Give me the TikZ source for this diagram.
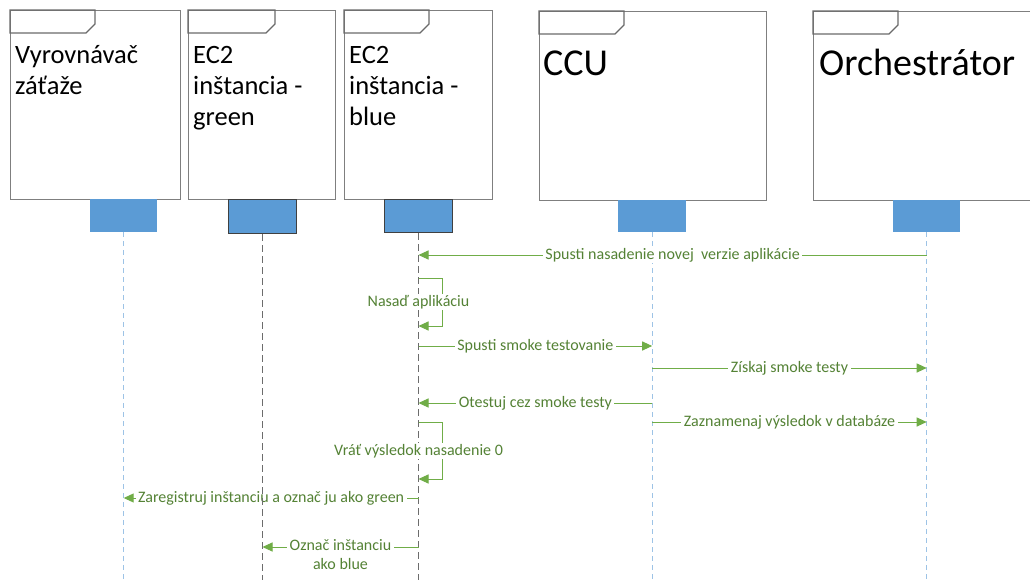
\documentclass[tikz,border=0pt]{standalone}
\usepackage{fontspec}
\setmainfont{Carlito}
\usetikzlibrary{arrows.meta,calc}

\definecolor{framegray}{HTML}{7F7F7F}
\definecolor{tabgray}{HTML}{6A6A6A}
\definecolor{actblue}{HTML}{5B9BD5}
\definecolor{lineblue}{HTML}{9DC3E6}
\definecolor{msggreen}{HTML}{70AD47}
\definecolor{msgtext}{HTML}{548235}
\definecolor{actedge}{HTML}{404040}

\tikzset{
  frame/.style={draw=framegray, line width=1pt, fill=white, anchor=north west, inner sep=0},
  tab/.style={draw=tabgray, line width=1.2pt, line join=miter},
  act/.style={fill=actblue, anchor=north west, inner sep=0, minimum width=67pt, minimum height=33pt},
  actdark/.style={act, draw=actedge, line width=1pt},
  lifelineblue/.style={draw=lineblue, line width=1pt, dash pattern=on 5pt off 4pt},
  lifelinegray/.style={draw=framegray!85!black, line width=1.5pt, dash pattern=on 7pt off 4pt},
  msg/.style={draw=msggreen, line width=1pt, -{Triangle[length=10pt,width=9pt]}},
  msglabel/.style={fill=white, text=msgtext, inner xsep=2.5pt, inner ysep=1pt,
    font=\fontsize{16}{19}\selectfont},
  title/.style={anchor=base west, inner sep=0, align=left, font=\fontsize{26.5}{31}\selectfont},
  bigtitle/.style={anchor=base west, inner sep=0, font=\fontsize{38}{46}\selectfont},
}

\begin{document}
\begin{tikzpicture}[x=1pt, y=-1pt]
  \clip (0,0) rectangle (1030,580);
  \fill[white] (0,0) rectangle (1030,580);

  % participant frames
  \node[frame, minimum width=170pt, minimum height=189pt] (f1) at (10,10) {};
  \node[frame, minimum width=147pt, minimum height=189pt] (f2) at (188,10) {};
  \node[frame, minimum width=148pt, minimum height=189pt] (f3) at (344,10) {};
  \node[frame, minimum width=227pt, minimum height=189pt] (f4) at (539,11) {};
  \node[frame, minimum width=240pt, minimum height=189pt] (f5) at (813,11) {};

  % name tabs in the upper left corners, drawn as closed outlines
  \foreach \f/\w in {f1/76, f2/78, f3/76, f4/76, f5/76} {
    \draw[tab] (\f.north west) -- ++(\w+9,0) -- ++(0,14) -- ++(-9,9)
      -- ++(-\w,0) -- cycle;
  }

  % participant names (anchored at the baseline of the last line)
  \node[title] (t1) at (15,95) {Vyrovnávač\\záťaže};
  \node[title] (t2) at (193,126) {EC2\\inštancia -\\green};
  \node[title] (t3) at (349,126) {EC2\\inštancia -\\blue};
  \node[bigtitle] (t4) at (543,76) {CCU};
  \node[bigtitle] (t5) at (819,76) {Orchestrátor};

  % lifeline heads
  \node[act] (a1) at (90,199) {};
  \node[actdark, minimum width=68pt, minimum height=34pt] (a2) at (228,199) {};
  \node[actdark, minimum width=68pt] (a3) at (384,199) {};
  \node[act, minimum width=68pt, minimum height=32pt] (a4) at (618,200) {};
  \node[act, minimum height=32pt] (a5) at (893,200) {};

  % message levels and the bottom edge
  \coordinate (bottom) at (0,580);
  \coordinate (y1) at (0,255);
  \coordinate (s1a) at (0,278);
  \coordinate (s1m) at (0,302);
  \coordinate (s1b) at (0,326);
  \coordinate (y3) at (0,346);
  \coordinate (y4) at (0,368);
  \coordinate (y5) at (0,403);
  \coordinate (y6) at (0,422);
  \coordinate (s2m) at (0,451);
  \coordinate (s2b) at (0,479);
  \coordinate (y8) at (0,498);
  \coordinate (y9) at (0,547);

  % lifelines
  \draw[lifelineblue] (a1.south) -- (a1.south |- bottom);
  \draw[lifelinegray] (a3.south) -- (a3.south |- bottom);
  \draw[lifelineblue] (a4.south) -- (a4.south |- bottom);
  \draw[lifelineblue] (a5.south) -- (a5.south |- bottom);

  % messages
  \draw[msg] (a5 |- y1) -- (a3 |- y1)
    node[msglabel, midway] (m1) {Spusti nasadenie novej\ \ verzie aplikácie};

  \draw[msg] (a3 |- s1a) -- ++(24,0) |- (a3 |- s1b);
  \node[msglabel] (m2) at (a3 |- s1m) {Nasaď aplikáciu};

  \draw[msg] (a3 |- y3) -- (a4 |- y3)
    node[msglabel, midway] (m3) {Spusti smoke testovanie};
  \draw[msg] (a4 |- y4) -- (a5 |- y4)
    node[msglabel, midway] (m4) {Získaj smoke testy};
  \draw[msg] (a4 |- y5) -- (a3 |- y5)
    node[msglabel, midway] (m5) {Otestuj cez smoke testy};
  \draw[msg] (a4 |- y6) -- (a5 |- y6)
    node[msglabel, midway] (m6) {Zaznamenaj výsledok v databáze};

  \draw[msg] (a3 |- y6) -- ++(24,0) |- (a3 |- s2b);
  \node[msglabel] (m7) at (a3 |- s2m) {Vráť výsledok nasadenie 0};

  \draw[msg] (a3 |- y8) -- (a1 |- y8)
    node[msglabel, midway] (m8) {Zaregistruj inštanciu a označ ju ako green};

  \draw[msg] (a3 |- y9) -- (a2 |- y9);
  \node[msglabel, align=center, anchor=north] (m9) at ([yshift=9pt]$(a3 |- y9)!0.5!(a2 |- y9)$) {Označ inštanciu\\ako blue};

  % green instance lifeline runs over the labels
  \draw[lifelinegray] (a2.south) -- (a2.south |- bottom);
\end{tikzpicture}
\end{document}
